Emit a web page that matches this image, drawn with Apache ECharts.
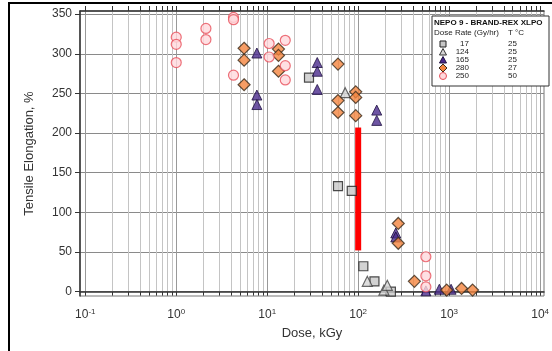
<!DOCTYPE html>
<html>
<head>
<meta charset="utf-8">
<script src="https://cdn.jsdelivr.net/npm/echarts@6/dist/echarts.min.js"></script>
<style>
html, body { margin: 0; padding: 0; background: #fff; }
#container { width: 552px; height: 351px; }
</style>
</head>
<body>
<div id="container"></div>
<script>
var dom = document.getElementById("container");
var myChart = echarts.init(dom);

// dose (kGy) and tensile elongation (%) per dose rate
var dose17 = [28.8, 60, 85, 114, 151, 229];
var elong17 = [270, 133, 127, 32, 13, 0];

var dose124 = [72, 126, 192, 209];
var elong124 = [251, 13, 2, 8];

var dose165 = [7.7, 7.7, 7.7, 35.5, 35.5, 35.5, 160, 160, 259, 259, 555, 780, 1050];
var elong165 = [301, 248, 236, 289, 278, 255, 229, 216, 74, 69, 1, 3, 3];

var dose280 = [5.57, 5.57, 5.57, 13.3, 13.3, 13.3, 60, 60, 60, 94, 94, 94, 276, 276, 415, 940, 1370, 1810];
var elong280 = [307, 292, 261, 306, 298, 278, 287, 241, 226, 252, 245, 222, 86, 61, 13, 2, 4, 2];

var dose250 = [1, 1, 1, 2.12, 2.12, 4.26, 4.26, 4.26, 10.5, 10.5, 15.8, 15.8, 15.8, 555, 555, 555];
var elong250 = [321, 312, 289, 332, 318, 346, 343, 273, 313, 296, 317, 285, 267, 44, 20, 6];

// red marker bar
var redBarDose = 100;
var redBarRange = [52, 207];

// legend text
var legendTitle = 'NEPO 9 - BRAND-REX XLPO';
var legendRates = ['17', '124', '165', '280', '250'];
var legendTemps = ['25', '25', '25', '27', '50'];

// axis ticks
var xDecades = [0.1, 1, 10, 100, 1000, 10000];
var yTicks = [0, 50, 100, 150, 200, 250, 300, 350];

var xMinor = [];
for (var n = 0; n < xDecades.length - 1; n++) {
    for (var k = 1; k <= 9; k++) {
        xMinor.push(k * xDecades[n]);
    }
}
xMinor.push(xDecades[xDecades.length - 1]);

var gridColors = ['#999', '#c4c4c4', '#c4c4c4', '#c4c4c4', '#c4c4c4', '#c4c4c4', '#c4c4c4', '#c4c4c4', '#c4c4c4'];

function pairs(xs, ys) {
    return xs.map(function (x, i) { return [x, ys[i]]; });
}

var font = 'Liberation Sans, Arial, sans-serif';

// legend drawn as graphic
var lx = 443, rowY = [44, 52, 60, 68, 76];
var legendShapes = [
    { type: 'rect', shape: { x: lx - 3, y: rowY[0] - 3, width: 6, height: 6 }, style: { fill: '#c8c8c8', stroke: '#222', lineWidth: 1 } },
    { type: 'polygon', shape: { points: [[lx, rowY[1] - 3.5], [lx - 3.5, rowY[1] + 3], [lx + 3.5, rowY[1] + 3]] }, style: { fill: '#d4d4d4', stroke: '#333', lineWidth: 1 } },
    { type: 'polygon', shape: { points: [[lx, rowY[2] - 3.5], [lx - 3.5, rowY[2] + 3], [lx + 3.5, rowY[2] + 3]] }, style: { fill: '#4a2a8c', stroke: '#1e1040', lineWidth: 1 } },
    { type: 'polygon', shape: { points: [[lx, rowY[3] - 4], [lx + 4, rowY[3]], [lx, rowY[3] + 4], [lx - 4, rowY[3]]] }, style: { fill: '#f4853f', stroke: '#3a2a1a', lineWidth: 1 } },
    { type: 'circle', shape: { cx: lx, cy: rowY[4], r: 3.5 }, style: { fill: '#ffd8dc', stroke: '#e8505b', lineWidth: 1 } }
];
var legendGraphics = [
    { type: 'rect', shape: { x: 432, y: 16, width: 117, height: 70 }, style: { fill: '#fff', stroke: '#333', lineWidth: 1 }, z: 100 },
    { type: 'text', x: 434, y: 19, style: { text: legendTitle, font: 'bold 8px ' + font, fill: '#111' }, z: 101 },
    { type: 'text', x: 434, y: 29, style: { text: 'Dose Rate (Gy/hr)', font: '8px ' + font, fill: '#222' }, z: 101 },
    { type: 'text', x: 508, y: 29, style: { text: 'T °C', font: '8px ' + font, fill: '#222' }, z: 101 }
];
legendShapes.forEach(function (s) { s.z = 101; legendGraphics.push(s); });
legendRates.forEach(function (r, i) {
    legendGraphics.push({ type: 'text', x: 469, y: rowY[i], style: { text: r, font: '8px ' + font, fill: '#222', align: 'right', verticalAlign: 'middle' }, z: 101 });
    legendGraphics.push({ type: 'text', x: 508, y: rowY[i], style: { text: legendTemps[i], font: '8px ' + font, fill: '#222', verticalAlign: 'middle' }, z: 101 });
});
legendGraphics.push({ type: 'polyline', shape: { points: [[9, 351], [9, 3], [552, 3]] }, style: { stroke: '#000', lineWidth: 2, fill: null }, z: 100 });

option = {
    backgroundColor: '#fff',
    animation: false,
    textStyle: { fontFamily: font },
    grid: {
        left: 80,
        right: 2,
        top: 11,
        bottom: 55,
        show: true,
        borderColor: '#777',
        borderWidth: 1
    },
    xAxis: [{
        type: 'log',
        min: 0.0875,
        max: 11040,
        name: 'Dose, kGy',
        nameLocation: 'middle',
        nameGap: 26,
        nameTextStyle: { fontSize: 13, color: '#333' },
        axisLine: { lineStyle: { color: '#333', width: 1.5 } },
        axisTick: { show: true, inside: false, length: 4, customValues: xMinor, lineStyle: { color: '#333' } },
        axisLabel: {
            customValues: xDecades,
            margin: 12,
            fontSize: 12,
            color: '#333',
            lineHeight: 14,
            formatter: function (v) {
                return '10{sup|' + Math.round(Math.log10(v)) + '}';
            },
            rich: { sup: { fontSize: 8, verticalAlign: 'top', lineHeight: 8, color: '#333' } }
        },
        splitLine: { show: true, lineStyle: { color: gridColors, width: 1 } },
        minorTick: { show: false },
        minorSplitLine: { show: false }
    }, {
        type: 'log',
        position: 'top',
        min: 0.0875,
        max: 11040,
        axisLine: { lineStyle: { color: '#333', width: 1.5 } },
        axisTick: { show: true, inside: false, length: 5, customValues: xMinor, lineStyle: { color: '#333' } },
        axisLabel: { show: false },
        splitLine: { show: false }
    }],
    yAxis: {
        type: 'value',
        min: -5.5,
        max: 354,
        name: 'Tensile Elongation, %',
        nameLocation: 'middle',
        nameGap: 44,
        nameTextStyle: { fontSize: 13, color: '#333' },
        axisLine: { show: true, lineStyle: { color: '#333', width: 1.5 } },
        axisTick: { show: true, inside: false, length: 5, customValues: yTicks, lineStyle: { color: '#333' } },
        axisLabel: { customValues: yTicks, margin: 8, fontSize: 12, color: '#333' },
        splitLine: { show: true, lineStyle: { color: '#8a8a8a', width: 1 } }
    },
    graphic: legendGraphics,
    series: [
        {
            name: '17',
            type: 'scatter',
            symbol: 'rect',
            symbolSize: 9,
            data: pairs(dose17, elong17),
            itemStyle: { color: '#c8c8c8', borderColor: '#222', borderWidth: 1.2 }
        },
        {
            name: '124',
            type: 'scatter',
            symbol: 'triangle',
            symbolSize: 10,
            data: pairs(dose124, elong124),
            itemStyle: { color: '#d4d4d4', borderColor: '#444', borderWidth: 1.2 }
        },
        {
            name: '165',
            type: 'scatter',
            symbol: 'triangle',
            symbolSize: 10,
            data: pairs(dose165, elong165),
            itemStyle: { color: '#4a2a8c', borderColor: '#1e1040', borderWidth: 1 }
        },
        {
            name: '280',
            type: 'scatter',
            symbol: 'diamond',
            symbolSize: 12,
            data: pairs(dose280, elong280),
            itemStyle: { color: '#f4853f', borderColor: '#3a2a1a', borderWidth: 1.2 }
        },
        {
            name: '250',
            type: 'scatter',
            symbol: 'circle',
            symbolSize: 10,
            data: pairs(dose250, elong250),
            itemStyle: { color: '#ffd8dc', borderColor: '#e8505b', borderWidth: 1.2 }
        },
        {
            name: 'marker',
            type: 'line',
            symbol: 'none',
            data: [[redBarDose, redBarRange[0]], [redBarDose, redBarRange[1]]],
            lineStyle: { color: '#ff0000', width: 6, cap: 'butt' },
            z: 1
        }
    ]
};

if (option && typeof option === "object") {
    myChart.setOption(option, true);
}
</script>
</body>
</html>
